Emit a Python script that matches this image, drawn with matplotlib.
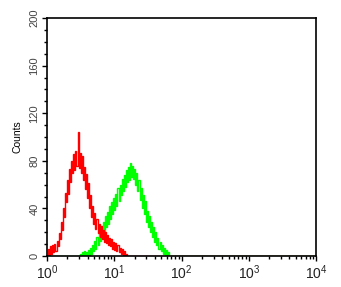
import numpy as np
import matplotlib
matplotlib.use("Agg")
import matplotlib.pyplot as plt
from matplotlib.ticker import MultipleLocator, LogLocator, FixedLocator

# histogram channels: 64 channels per decade, 4 decades (10^0 .. 10^4)
n_channels = 256
red_start = 0
red_counts = [0, 6, 1, 8, 2, 9, 3, 10, 4, 13, 8, 19, 14, 29,
              22, 40, 33, 53, 45,
              64, 52, 73, 62, 80,
              70, 86, 72, 88, 76,
              104, 74, 87, 70, 84,
              64, 75, 56, 69,
              49, 61, 40, 51, 33,
              42, 27, 36, 23, 31, 19, 27,
              16, 25, 14, 22, 12, 20,
              11, 18, 9, 15, 8, 14,
              6, 12, 5, 11, 4, 9, 3,
              7, 2, 6, 1, 4, 0, 2, 0]
green_start = 30
green_counts = [0, 2, 0, 3, 0, 4, 0, 3, 1, 5,
                1, 7, 2, 9, 4, 13,
                6, 16, 9, 21, 13, 25, 17,
                29, 20, 34, 24, 37, 27,
                42, 31, 45, 35, 49, 39, 52,
                42, 57, 46, 60, 51, 65,
                55, 68, 58, 72, 62, 75,
                64, 78, 66, 76, 65, 73, 60,
                70, 55, 64, 47, 57, 40,
                51, 35, 46, 29, 38, 24, 34,
                20, 29, 16, 24, 12, 20,
                9, 15, 6, 12, 4, 9,
                2, 7, 1, 5, 0, 3, 0, 0]

y_ticks = [0, 40, 80, 120, 160, 200]
x_ticks = [1, 10, 100, 1000, 10000]
x_labels = [r'$10^0$', r'$10^1$', r'$10^2$', r'$10^3$', r'$10^4$']

plt.rcParams['font.family'] = ['Liberation Sans', 'DejaVu Sans']
plt.rcParams['mathtext.fontset'] = 'custom'
plt.rcParams['mathtext.rm'] = 'Liberation Sans'
plt.rcParams['mathtext.it'] = 'Liberation Sans'


def full_hist(start, counts):
    h = np.zeros(n_channels)
    h[start:start + len(counts)] = counts
    return h


edges = 10 ** (np.arange(n_channels + 1) / 64.0)

fig = plt.figure(figsize=(3.41, 2.87), dpi=100)
ax = fig.add_axes([0.138, 0.108, 0.789, 0.829])

ax.stairs(full_hist(green_start, green_counts), edges, color='#00ff00', linewidth=1.0)
ax.stairs(full_hist(red_start, red_counts), edges, color='#ff0000', linewidth=1.0)

ax.set_xscale('log')
ax.set_xlim(1, 10000)
ax.set_ylim(0, 200)

ax.yaxis.set_major_locator(FixedLocator(y_ticks))
ax.yaxis.set_minor_locator(MultipleLocator(10))
ax.set_yticklabels([str(v) for v in y_ticks], rotation=90, va='center',
                   fontsize=8, color='#444444')
ax.xaxis.set_major_locator(FixedLocator(x_ticks))
ax.xaxis.set_minor_locator(LogLocator(base=10, subs=np.arange(2, 10)))
ax.set_xticklabels(x_labels, fontsize=10, color='#222222')

ax.tick_params(which='major', direction='out', length=3.5, width=1, pad=2)
ax.tick_params(which='minor', direction='out', length=2, width=1)
for s in ax.spines.values():
    s.set_linewidth(1.2)

ax.set_ylabel('Counts', fontsize=7.5, labelpad=5)

fig.savefig('out.png', dpi=100)
